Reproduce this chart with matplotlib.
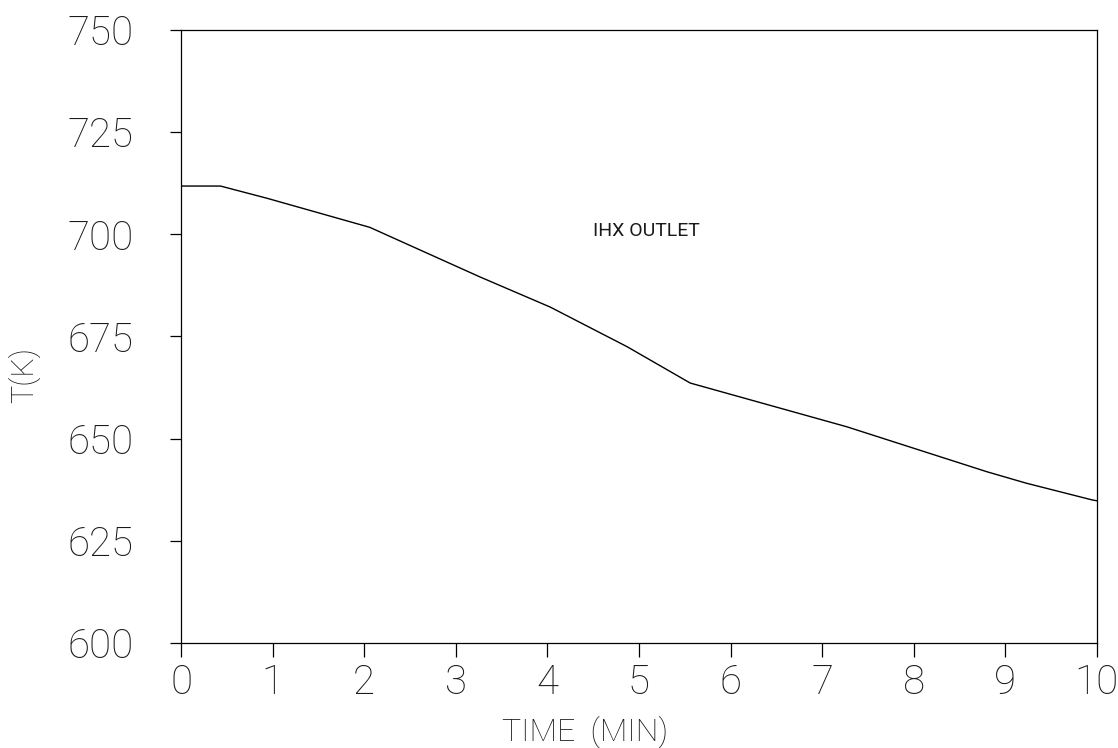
import matplotlib.pyplot as plt

time_min = [0.0, 0.43, 0.94, 2.06, 3.26, 4.03, 4.87, 5.56, 7.27, 8.80, 9.23, 9.95, 10.0]
temp_k = [711.8, 711.8, 708.8, 701.7, 689.6, 682.2, 672.5, 663.6, 652.9, 641.9, 639.1, 635.0, 634.8]
x_ticks = list(range(0, 11))
y_ticks = [600, 625, 650, 675, 700, 725, 750]

font = ["Roboto", "DejaVu Sans"]

fig = plt.figure(figsize=(11.18, 7.48), dpi=100)
ax = fig.add_axes([0.162, 0.1404, 0.819, 0.8196])

ax.plot(time_min, temp_k, color="black", linewidth=1.0)

ax.set_xlim(0, 10)
ax.set_ylim(600, 750)
ax.set_xticks(x_ticks)
ax.set_yticks(y_ticks)
ax.set_xticklabels([str(v) for v in x_ticks], family=font, fontsize=29, fontweight="light", color="#1a1a1a")
ax.set_yticklabels([str(v) for v in y_ticks], family=font, fontsize=29, fontweight="light", color="#1a1a1a")
ax.tick_params(axis="x", direction="out", length=10, width=0.9, pad=5)
ax.tick_params(axis="y", direction="out", length=8, width=0.9, pad=26)

for s in ax.spines.values():
    s.set_linewidth(0.9)

ax.set_xlabel("TIME  (MIN)", family=font, fontsize=23, fontweight="light", color="#1a1a1a")
ax.xaxis.set_label_coords(0.441, -0.118)
ax.set_ylabel("T(K)", family=font, fontsize=22, fontweight="light", color="#1a1a1a")
ax.yaxis.set_label_coords(-0.154, 0.437)

ax.text(4.5, 700.8, "IHX OUTLET", family=font, fontsize=14, va="center", ha="left", color="#1a1a1a")

fig.savefig("out.png", dpi=100)
